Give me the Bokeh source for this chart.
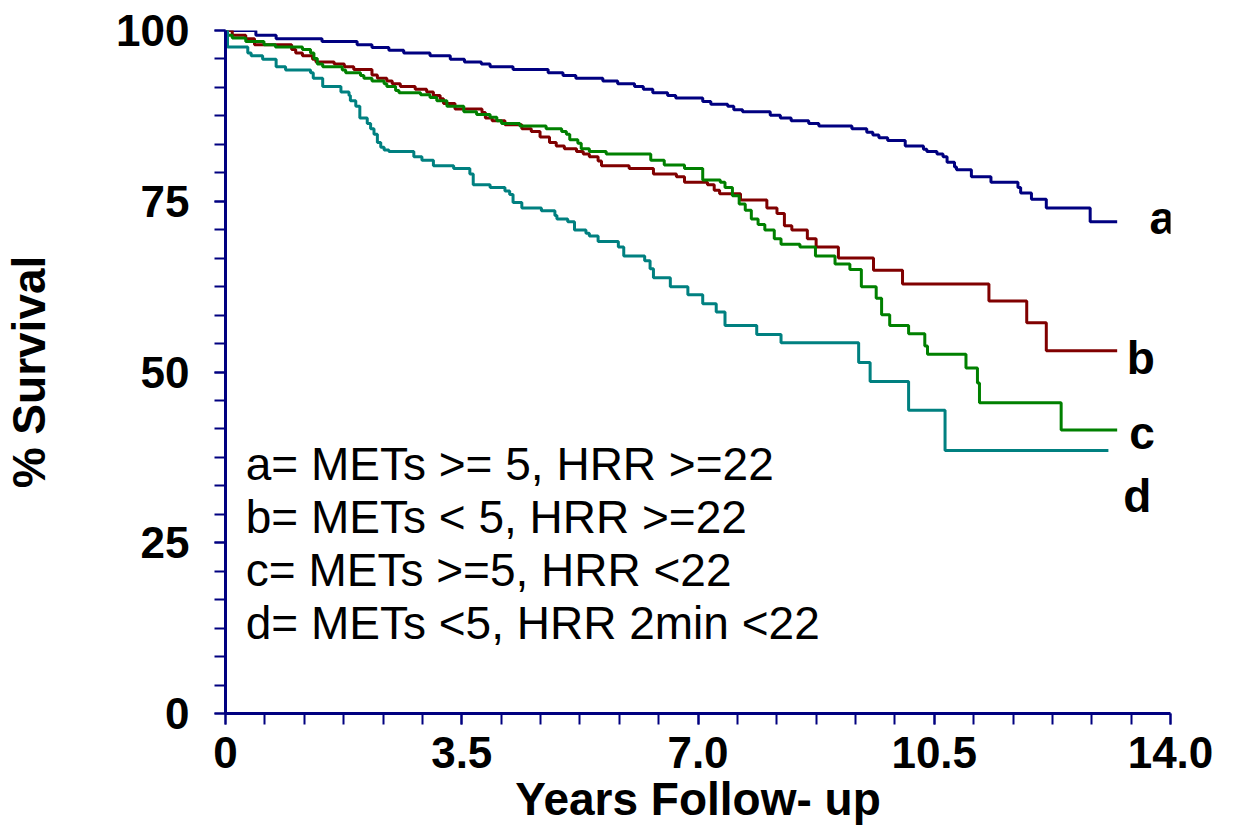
from bokeh.plotting import figure
from bokeh.models import Range1d, FixedTicker, CustomJSTickFormatter, Label
from bokeh.embed import file_html
from bokeh.resources import INLINE
from bokeh.core.properties import value

# ---------------- data ----------------
a_time = [0, 0.45, 0.75, 1.43, 1.95, 2.17, 2.42, 2.64, 3.03, 3.33, 3.54, 3.79, 3.92, 4.26, 4.78,
          5.00, 5.19, 5.59, 5.81, 6.06, 6.19, 6.33, 6.55, 6.67, 7.07, 7.19, 7.44, 7.53, 7.66, 8.07,
          8.22, 8.38, 8.64, 8.79, 9.28, 9.50, 9.59, 9.68, 9.81, 10.07, 10.34, 10.39, 10.54, 10.63,
          10.69, 10.80, 10.83, 11.05, 11.34, 11.74, 11.78, 11.94, 12.16, 12.81, 13.21]
a_surv = [100, 99.3, 98.8, 98.4, 97.9, 97.5, 97.1, 96.7, 96.3, 95.8, 95.4, 95.1, 94.7, 94.3, 93.8,
          93.4, 93.0, 92.6, 92.2, 91.8, 91.4, 90.9, 90.5, 90.1, 89.6, 89.2, 88.9, 88.4, 88.1, 87.6,
          87.2, 86.8, 86.4, 86.0, 85.6, 85.1, 84.7, 84.3, 83.9, 83.1, 82.6, 82.3, 81.9, 81.5,
          80.7, 80.0, 79.6, 78.6, 77.8, 77.0, 76.2, 75.3, 74.0, 72.0, 72.0]

b_time = [0, 0.10, 0.30, 0.43, 0.98, 1.04, 1.14, 1.29, 1.34, 1.61, 1.76, 1.90, 2.17, 2.25, 2.39,
          2.47, 2.59, 2.81, 2.98, 3.08, 3.18, 3.23, 3.40, 3.80, 3.85, 3.95, 4.14, 4.39, 4.53, 4.66,
          4.80, 4.90, 5.02, 5.20, 5.30, 5.39, 5.52, 5.57, 5.98, 6.34, 6.68, 6.80, 7.14, 7.24, 7.32,
          7.63, 8.02, 8.17, 8.28, 8.39, 8.62, 8.75, 9.08, 9.60, 10.03, 11.31, 11.87, 12.16, 13.21]
b_surv = [100, 99.3, 98.8, 97.9, 97.2, 96.7, 96.3, 95.8, 95.4, 95.1, 94.7, 94.3, 93.5, 93.0, 92.6,
          92.2, 91.8, 91.4, 91.0, 90.5, 90.0, 89.3, 88.5, 88.0, 87.2, 86.8, 86.2, 85.6, 85.2, 84.4,
          83.6, 83.1, 82.7, 82.3, 81.9, 81.5, 80.9, 80.2, 79.8, 79.0, 78.6, 77.8, 77.4, 76.6, 76.1,
          75.2, 74.0, 73.2, 71.4, 70.8, 69.5, 68.3, 66.7, 64.9, 62.9, 60.4, 57.2, 53.1, 53.1]

c_time = [0, 0.02, 0.10, 0.30, 0.57, 0.74, 1.14, 1.26, 1.31, 1.36, 1.44, 1.73, 1.78, 2.00, 2.05,
          2.17, 2.35, 2.39, 2.52, 2.57, 2.89, 3.03, 3.13, 3.28, 3.53, 3.72, 3.92, 4.02, 4.09, 4.36,
          4.75, 4.98, 5.05, 5.10, 5.22, 5.27, 5.39, 5.64, 6.30, 6.50, 6.80, 7.07, 7.33, 7.40, 7.51,
          7.61, 7.70, 7.79, 7.89, 7.99, 8.13, 8.23, 8.51, 8.74, 9.03, 9.25, 9.42, 9.64, 9.72, 9.84,
          10.12, 10.36, 10.40, 10.97, 11.14, 11.17, 12.38, 13.21]
c_surv = [100, 99.3, 98.9, 98.4, 97.9, 97.6, 97.2, 96.7, 95.9, 95.1, 94.7, 94.2, 93.8, 93.4, 93.0,
          92.6, 92.2, 91.8, 91.2, 90.9, 90.6, 90.2, 89.7, 88.9, 88.1, 87.7, 87.3, 86.8, 86.4, 86.0,
          85.6, 85.2, 84.8, 84.0, 83.5, 82.7, 82.3, 81.9, 81.0, 80.3, 79.8, 78.1, 77.8, 77.0, 75.8,
          74.6, 73.7, 72.4, 71.6, 70.8, 69.5, 68.7, 68.3, 67.0, 65.8, 65.0, 62.5, 60.8, 58.4, 56.8,
          55.6, 53.8, 52.6, 50.6, 48.4, 45.5, 41.5, 41.5]

d_time = [0, 0.03, 0.33, 0.38, 0.55, 0.75, 0.89, 1.26, 1.30, 1.44, 1.71, 1.83, 1.85, 1.93, 1.99,
          2.10, 2.15, 2.20, 2.25, 2.30, 2.35, 2.42, 2.79, 2.91, 3.08, 3.38, 3.62, 3.67, 3.92, 4.14,
          4.21, 4.26, 4.39, 4.68, 4.88, 4.91, 5.07, 5.17, 5.34, 5.39, 5.52, 5.82, 5.90, 6.21, 6.29,
          6.34, 6.59, 6.85, 7.07, 7.27, 7.40, 7.87, 8.23, 9.38, 9.55, 10.12, 10.66, 13.08]
d_surv = [100, 97.6, 96.7, 96.3, 95.8, 94.7, 94.2, 93.8, 93.0, 91.8, 91.0, 90.5, 89.7, 88.9, 87.2,
          86.4, 85.6, 84.8, 83.6, 82.9, 82.5, 82.3, 81.5, 81.0, 80.2, 79.8, 79.0, 77.4, 77.0, 76.5,
          76.0, 74.8, 74.0, 73.6, 72.9, 72.4, 72.0, 70.8, 70.3, 69.9, 69.1, 68.3, 67.0, 66.3, 65.1,
          63.8, 62.5, 61.3, 60.0, 58.8, 56.8, 55.5, 54.3, 51.4, 48.6, 44.4, 38.5, 38.5]

series_names = ["a", "b", "c", "d"]
legend_lines = ["a= METs >= 5, HRR >=22",
                "b= METs < 5, HRR >=22",
                "c= METs >=5, HRR <22",
                "d= METs <5, HRR 2min <22"]
x_major = [0, 3.5, 7.0, 10.5, 14.0]
y_major = [0, 25, 50, 75, 100]
x_title = "Years Follow- up"
y_title = "% Survival"

# ---------------- styling ----------------
FONT = "Liberation Sans"
AXIS_COLOR = "#000080"
colors = ["#000080", "#800000", "#008000", "#008080"]

p = figure(width=1253, height=839, x_range=Range1d(0, 14), y_range=Range1d(0, 100),
           output_backend="svg", toolbar_location=None,
           min_border_left=221, min_border_right=83, min_border_top=30, min_border_bottom=126,
           background_fill_color="white", border_fill_color="white")
p.outline_line_color = None
p.xgrid.visible = False
p.ygrid.visible = False

# survival curves
for t, s, col in zip([a_time, b_time, c_time, d_time], [a_surv, b_surv, c_surv, d_surv], colors):
    p.step(t, s, mode="after", line_color=col, line_width=3)

# legend text block
leg_y = [36.6, 28.8, 21.0, 13.2]
p.text(x=[0.3] * len(legend_lines), y=leg_y, text=legend_lines,
       text_font=value(FONT), text_font_size="46px", text_color="black",
       text_baseline="alphabetic", text_align="left")

# curve end labels
end_pos = [(13.69, 72.6), (13.35, 52.1), (13.39, 41.0), (13.30, 31.9)]
for name, (lx, ly) in zip(series_names, end_pos):
    p.add_layout(Label(x=lx, y=ly, text=name, text_font=FONT, text_font_size="46px",
                       text_font_style="bold", text_color="black",
                       text_baseline="alphabetic", text_align="left"))

# axes
p.xaxis.ticker = FixedTicker(ticks=x_major, minor_ticks=[i * 14 / 24 for i in range(25)])
p.yaxis.ticker = FixedTicker(ticks=y_major, minor_ticks=[i * 100 / 24 for i in range(25)])
p.xaxis.formatter = CustomJSTickFormatter(code="return tick == 0 ? '0' : tick.toFixed(1);")
p.xaxis.axis_label = x_title
p.yaxis.axis_label = y_title

for ax in [p.xaxis[0], p.yaxis[0]]:
    ax.axis_line_color = AXIS_COLOR
    ax.axis_line_width = 3
    ax.major_tick_line_color = AXIS_COLOR
    ax.minor_tick_line_color = AXIS_COLOR
    ax.major_tick_line_width = 2
    ax.minor_tick_line_width = 2
    ax.major_tick_in = 0
    ax.major_tick_out = 11
    ax.minor_tick_in = 0
    ax.minor_tick_out = 11
    ax.major_label_text_font = FONT
    ax.major_label_text_font_size = "44px"
    ax.major_label_text_font_style = "bold"
    ax.major_label_text_color = "black"
    ax.axis_label_text_font = FONT
    ax.axis_label_text_font_size = "46px"
    ax.axis_label_text_font_style = "bold"
    ax.axis_label_text_color = "black"

p.xaxis.major_label_standoff = 12
p.xaxis.axis_label_standoff = 2
p.yaxis.major_label_standoff = 25
p.yaxis.axis_label_standoff = 58

open("out.html", "w").write(file_html(p, INLINE))
